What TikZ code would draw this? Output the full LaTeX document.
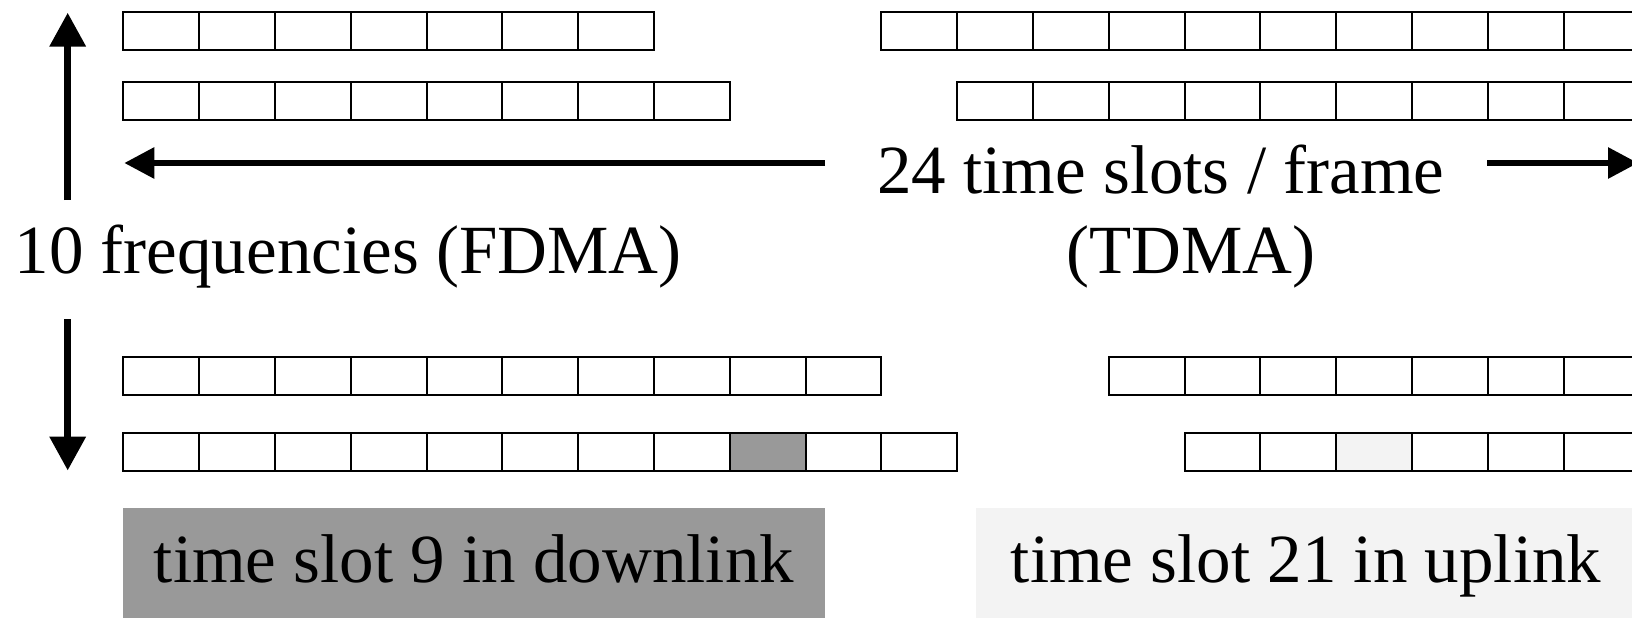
\documentclass[tikz,border=0pt]{standalone}
\usepackage{fontspec}
\setmainfont{Liberation Serif}
\usetikzlibrary{arrows.meta}
\definecolor{slotdark}{RGB}{153,153,153}
\definecolor{slotlight}{RGB}{243,243,243}
\begin{document}
\begin{tikzpicture}[x=1pt,y=-1pt,
  cell/.style={draw=black,line width=2pt},
  vaxis/.style={line width=7pt,-{Triangle[length=34pt,width=35pt]}},
  haxis/.style={line width=6pt,-{Triangle[length=30pt,width=30pt]}},
  bigtext/.style={inner sep=0pt,anchor=base,font=\fontsize{69}{80}\selectfont},
]
\useasboundingbox (0,0) rectangle (1632,618);
\clip (0,0) rectangle (1632,618);
% slot grid geometry
\def\cx{123.3}
\def\cw{75.8}
\def\ch{38}

% caption panels
\fill[slotdark] (123.3,508) rectangle (825,630);
\fill[slotlight] (976,508) rectangle (1640,630);

% highlighted slots
\fill[slotdark] ({\cx+8*\cw},432.7) rectangle ++(\cw,\ch);
\fill[slotlight] ({\cx+16*\cw},432.7) rectangle ++(\cw,\ch);

% rows of time slots: y / left run / right run
\foreach \y/\a/\b/\c/\d in {11.7/0/6/10/19, 81.7/0/7/11/19, 356.7/0/9/13/19, 432.7/0/10/14/19}{
  \foreach \k in {\a,...,\b}{
    \draw[cell] ({\cx+\k*\cw},\y) rectangle ++(\cw,\ch);
  }
  \foreach \k in {\c,...,\d}{
    \draw[cell] ({\cx+\k*\cw},\y) rectangle ++(\cw,\ch);
  }
}

% frequency axis
\coordinate (uptail) at (67.7,200);
\coordinate (uptip) at (67.7,12.7);
\coordinate (downtail) at (67.7,319);
\coordinate (downtip) at (67.7,470.5);
\draw[vaxis] (uptail) -- (uptip);
\draw[vaxis] (downtail) -- (downtip);

% time axis
\coordinate (lefttail) at (825,163);
\coordinate (lefttip) at (124.3,163);
\coordinate (righttail) at (1487,163);
\coordinate (righttip) at (1638,163);
\draw[haxis] (lefttail) -- (lefttip);
\draw[haxis] (righttail) -- (righttip);

% labels
\node[bigtext] (fdma) at (348,273) {10 frequencies (FDMA)};
\node[bigtext] (tdmaA) at (1160.7,193.3) {24 time slots / frame};
\node[bigtext] (tdmaB) at (1191,273) {(TDMA)};
\node[bigtext] (down) at (474,582) {time slot 9 in downlink};
\node[bigtext] (up) at (1306,582) {time slot 21 in uplink};
\end{tikzpicture}
\end{document}
